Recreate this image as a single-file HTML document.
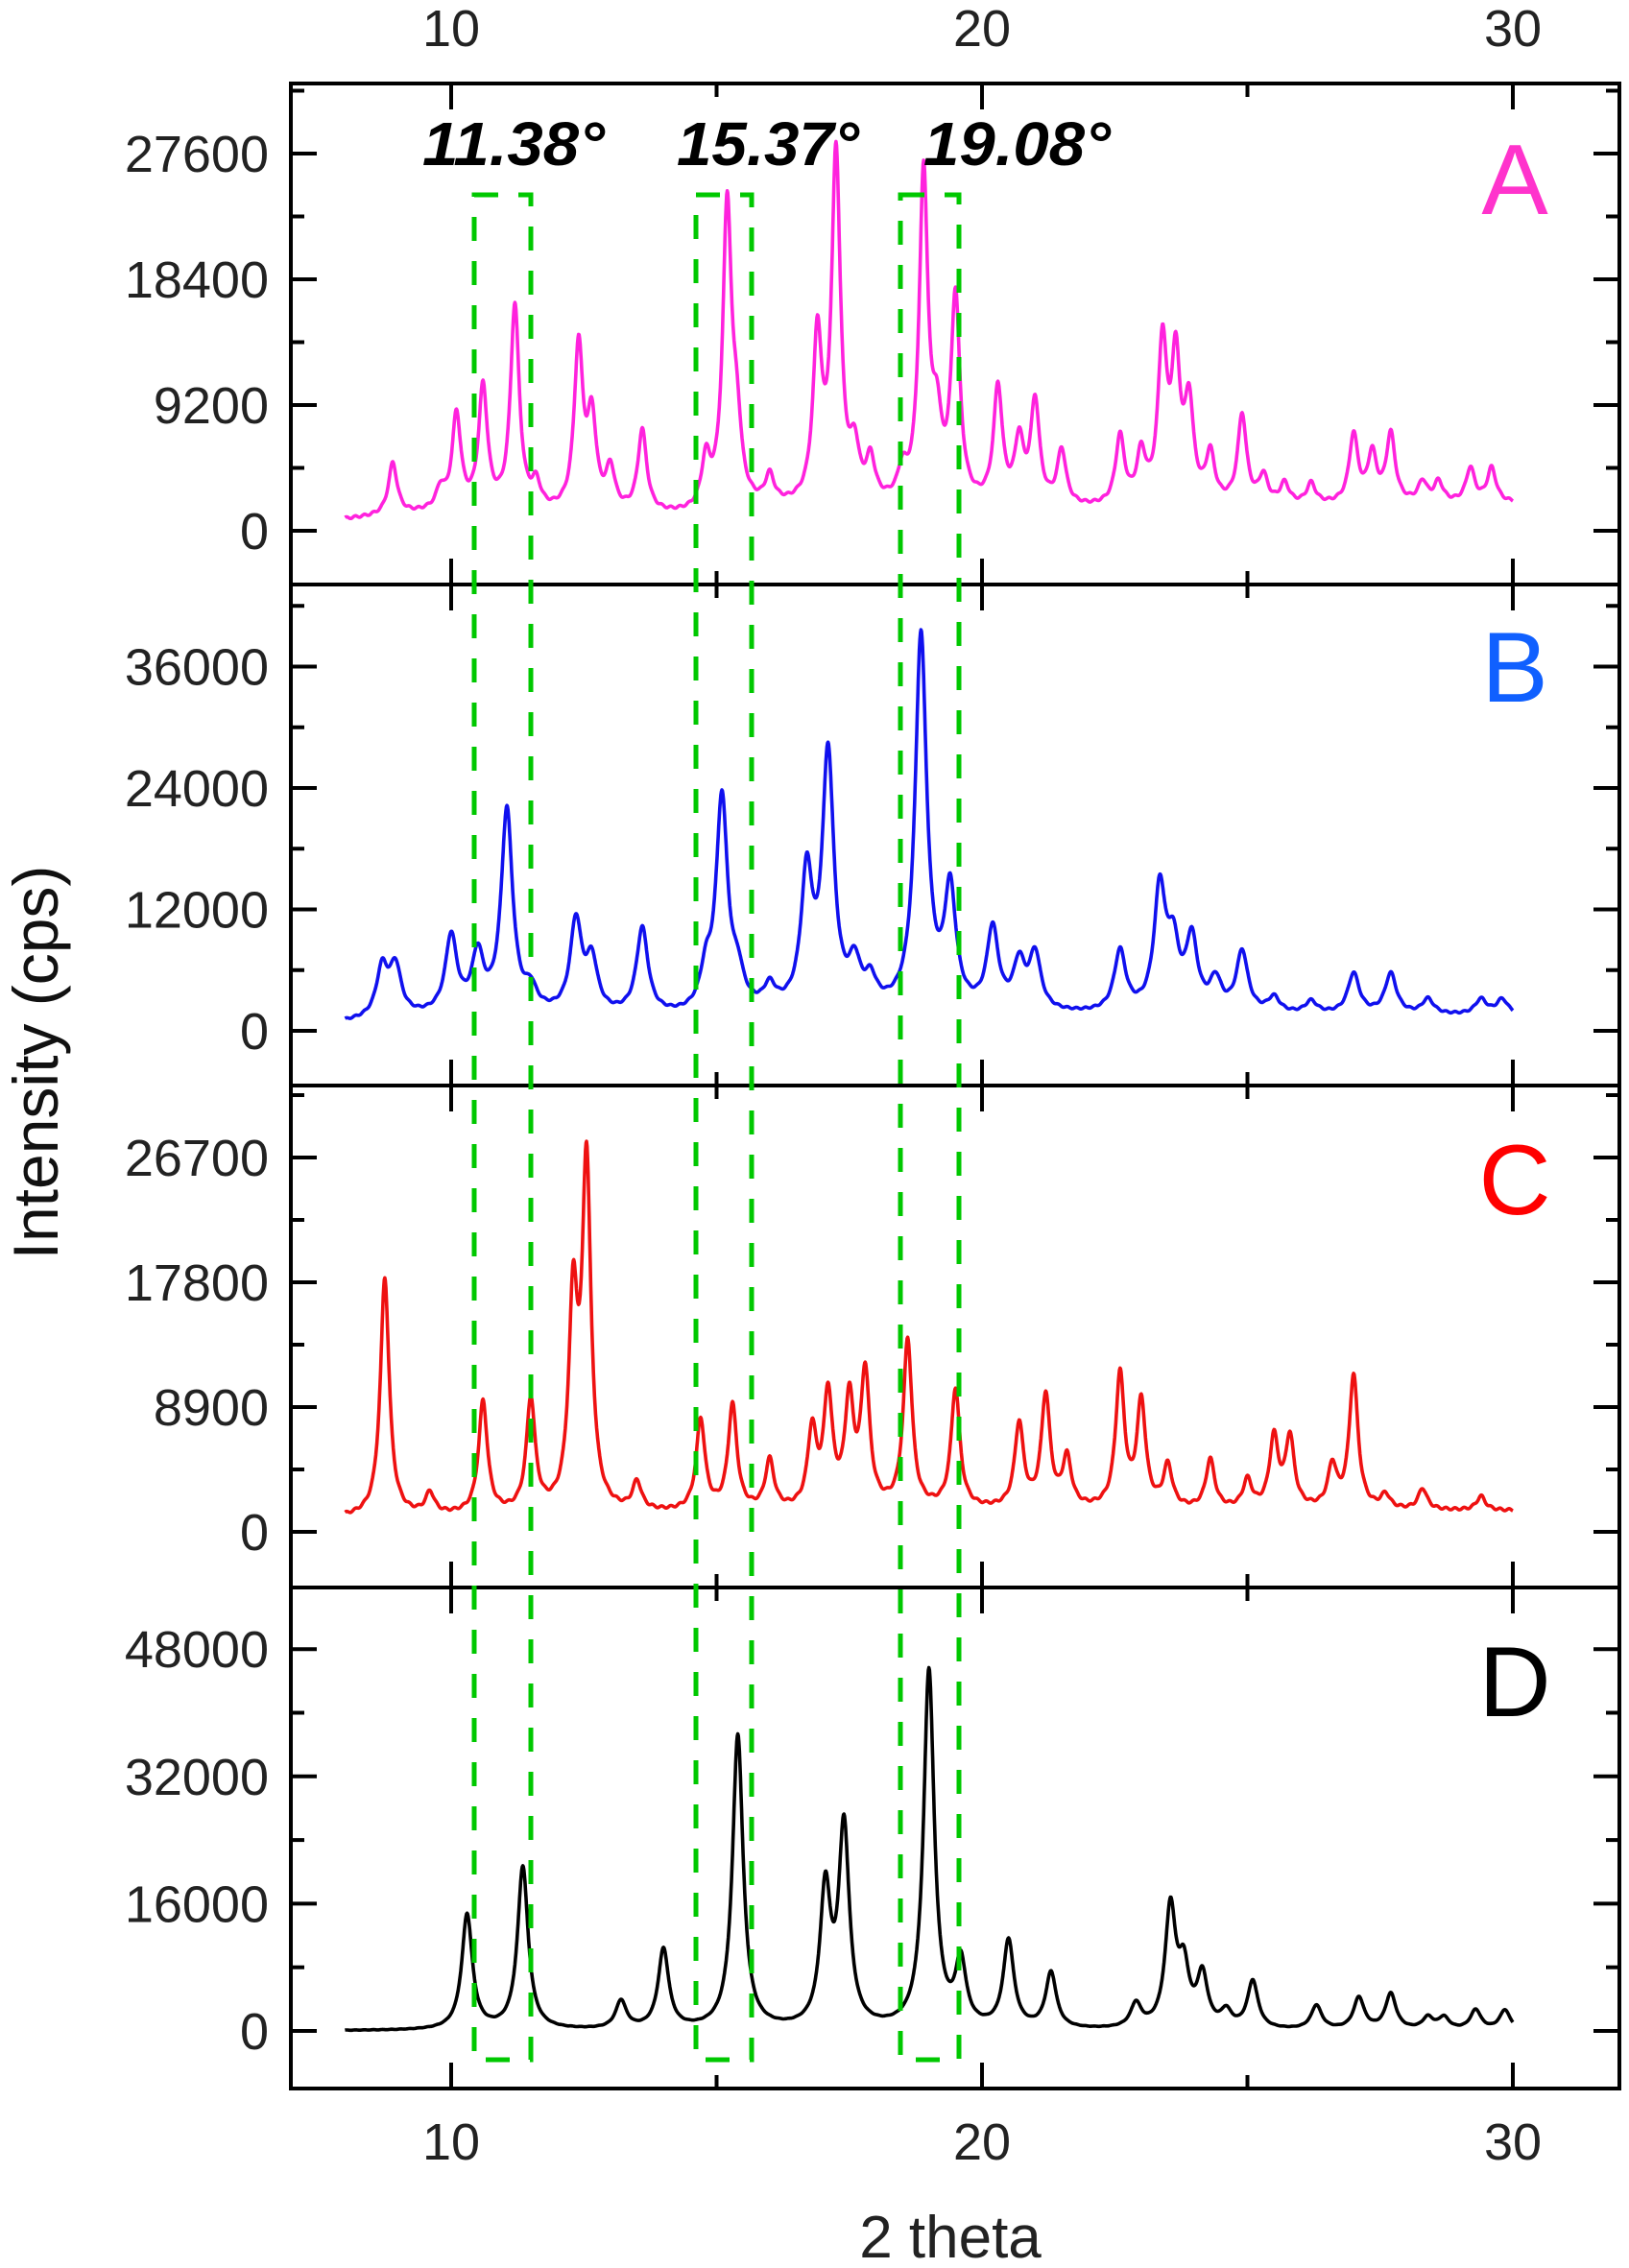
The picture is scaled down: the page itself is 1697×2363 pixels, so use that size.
<!DOCTYPE html>
<html><head><meta charset="utf-8"><style>
html,body{margin:0;padding:0;background:#fff}
svg{display:block}
text{font-family:"Liberation Sans",sans-serif}
</style></head><body>
<svg id="s" width="1697" height="2363" viewBox="0 0 1697 2363" xmlns="http://www.w3.org/2000/svg">
<rect width="1697" height="2363" fill="#fff"/>
<g id="curves"></g>
<g id="axes" stroke="#000" stroke-width="4" fill="none"></g>
<g id="labels" font-size="54" fill="#222" text-anchor="end"></g>
<g fill="none" stroke="#00c800" stroke-width="5" stroke-dasharray="25 21">
<rect x="494" y="203" width="59" height="1943"/>
<rect x="725" y="203" width="58" height="1943"/>
<rect x="938" y="203" width="61" height="1943"/>
</g>
<g font-size="64" font-weight="bold" font-style="italic" fill="#000">
<text x="440" y="172" textLength="190" lengthAdjust="spacingAndGlyphs">11.38°</text>
<text x="705" y="172" textLength="190" lengthAdjust="spacingAndGlyphs">15.37°</text>
<text x="962" y="172" textLength="195" lengthAdjust="spacingAndGlyphs">19.08°</text>
</g>
<g font-size="104" text-anchor="middle">
<text x="1578" y="223" fill="#ff33cc">A</text>
<text x="1578" y="731" fill="#1060ff">B</text>
<text x="1578" y="1265" fill="#ff0000">C</text>
<text x="1578" y="1788" fill="#000">D</text>
</g>
<text x="0" y="0" font-size="66" fill="#111" text-anchor="middle" transform="translate(60,1107) rotate(-90)">Intensity (cps)</text>
<text x="990" y="2352" font-size="62" fill="#222" text-anchor="middle">2 theta</text>
</svg>
<script>
var NS="http://www.w3.org/2000/svg";
function X(d){return 470+(d-10)*55.3;}
var L=303,R=1687,T=87,B=2176,seps=[T,609,1131,1654,B];
var panels=[
 {col:"#ff22dd",y0:553,per:131/9200,ticks:[0,9200,18400,27600],w:0.1,base:[[8,800],[9.5,1200],[14.5,1000],[16,1500],[22,1500],[30,2000]],
  pk:[[8.9,3800],[9.8,1500],[10.1,7000],[10.6,9000],[11.2,15000],[11.6,1800],[12.4,12000],[12.65,6500],[13.0,3000],[13.6,6000],[14.8,3500],[15.2,22000],[15.38,5000],[16.0,2000],[16.9,12000],[17.25,25500],[17.6,3500],[17.9,3000],[18.5,2000],[18.9,24000],[19.15,5000],[19.5,15000],[20.3,8500],[20.7,4500],[21.0,7500],[21.5,4000],[22.6,5000],[23.0,3500],[23.4,11500],[23.65,10000],[23.9,7000],[24.3,3500],[24.9,6500],[25.3,2000],[25.7,1500],[26.2,1500],[27.0,5000],[27.35,3500],[27.7,5000],[28.3,1500],[28.6,1500],[29.2,2500],[29.6,2500]]},
 {col:"#1010ee",y0:1074,per:126.5/12000,ticks:[0,12000,24000,36000],w:0.13,base:[[8,800],[10,1500],[14.5,1200],[16,1600],[22,1500],[30,1500]],
  pk:[[8.7,4800],[8.95,4800],[10.0,7500],[10.5,5500],[11.05,20000],[11.5,2000],[12.35,9000],[12.65,5000],[13.6,8500],[14.8,3500],[15.1,21000],[15.4,3000],[16.0,2000],[16.7,13000],[17.1,25000],[17.6,4000],[17.9,2500],[18.85,37000],[19.4,11500],[20.2,8000],[20.7,4500],[21.0,5500],[22.6,6000],[23.35,12000],[23.6,6000],[23.95,7000],[24.4,3000],[24.9,6000],[25.5,1500],[26.2,1200],[27.0,4000],[27.7,4000],[28.4,1500],[29.4,1500],[29.8,1500]]},
 {col:"#ee1111",y0:1596,per:130/8900,ticks:[0,8900,17800,26700],w:0.1,base:[[8,1000],[12,1200],[20,1500],[30,1500]],
  pk:[[8.75,17000],[9.6,1500],[10.6,8000],[11.5,8000],[12.3,14500],[12.55,24500],[13.5,2000],[14.7,6500],[15.3,7500],[16.0,3500],[16.8,5500],[17.1,8000],[17.5,7500],[17.8,9500],[18.6,12000],[19.5,8500],[20.7,6000],[21.2,8000],[21.6,3500],[22.6,9500],[23.0,7500],[23.5,3000],[24.3,3500],[25.0,2000],[25.5,5000],[25.8,5000],[26.6,3000],[27.0,9500],[27.6,1000],[28.3,1500],[29.4,1000]]},
 {col:"#000",y0:2116,per:132.6/16000,ticks:[0,16000,32000,48000],w:0.12,base:[[8,0],[30,0]],
  pk:[[10.3,14500],[11.35,20500],[13.2,3500],[14.0,10000],[15.4,37000],[17.05,17000],[17.4,25000],[19.0,45000],[19.6,8000],[20.5,11000],[21.3,7000],[22.9,3000],[23.55,15000],[23.8,7000],[24.15,6500],[24.6,2000],[25.1,6000],[26.3,3000],[27.1,4000],[27.7,4500],[28.4,1500],[28.7,1500],[29.3,2500],[29.85,2500]]}
];
function base(b,x){for(var i=0;i<b.length-1;i++){if(x<=b[i+1][0]){var t=(x-b[i][0])/(b[i+1][0]-b[i][0]);return b[i][1]+t*(b[i+1][1]-b[i][1]);}}return b[b.length-1][1];}
var cg=document.getElementById("curves"),ag=document.getElementById("axes"),lg=document.getElementById("labels");
function el(n,a,p){var e=document.createElementNS(NS,n);for(var k in a)e.setAttribute(k,a[k]);p.appendChild(e);return e;}
panels.forEach(function(p,pi){
 var d="";
 for(var x=8;x<=30.0001;x+=0.01){
  var y=base(p.base,x);
  p.pk.forEach(function(k){var u=(x-k[0])/p.w;y+=k[1]/(1+u*u);});
  y+=80*Math.sin(x*37)*(pi==3?0.3:1);
  d+=(d?"L":"M")+X(x).toFixed(1)+" "+(p.y0-y*p.per).toFixed(1);
 }
 el("path",{d:d,fill:"none",stroke:p.col,"stroke-width":3.6,"stroke-linejoin":"round"},cg);
 var step=p.ticks[1];
 for(var v=-step/2;v<=p.ticks[3]+step;v+=step/2){
  var yy=p.y0-v*p.per; if(yy<seps[pi]+3||yy>seps[pi+1]-3)continue;
  var major=Math.abs(v/step-Math.round(v/step))<1e-6, len=major?27:14;
  el("line",{x1:L,x2:L+len,y1:yy,y2:yy},ag);
  el("line",{x1:R,x2:R-len,y1:yy,y2:yy},ag);
 }
 p.ticks.forEach(function(v){var t=el("text",{x:280,y:p.y0-v*p.per+19},lg);t.textContent=v;});
});
for(var i=1;i<4;i++)el("line",{x1:L,x2:R,y1:seps[i],y2:seps[i]},ag);
el("rect",{x:L,y:T,width:R-L,height:B-T},ag);
[10,15,20,25,30].forEach(function(v){var len=(v%10==0)?27:14;
 el("line",{x1:X(v),x2:X(v),y1:T,y2:T+len},ag);el("line",{x1:X(v),x2:X(v),y1:B,y2:B-len},ag);
 for(var i=1;i<4;i++){el("line",{x1:X(v),x2:X(v),y1:seps[i],y2:seps[i]-len},ag);el("line",{x1:X(v),x2:X(v),y1:seps[i],y2:seps[i]+len},ag);}
 if(v%10==0){var t=el("text",{x:X(v),y:48,"text-anchor":"middle"},lg);t.textContent=v;t=el("text",{x:X(v),y:2250,"text-anchor":"middle"},lg);t.textContent=v;}
});
</script>
</body></html>
